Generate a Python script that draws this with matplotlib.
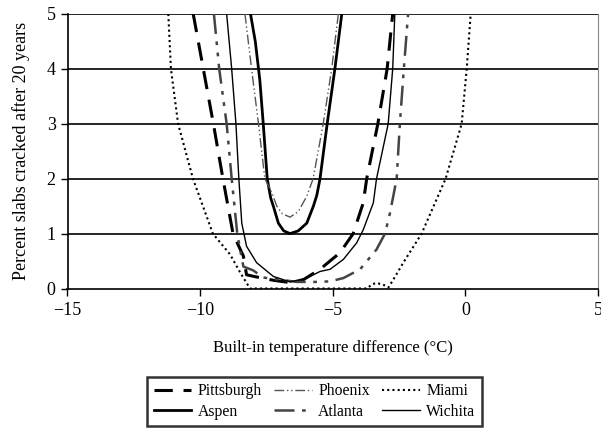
import matplotlib
matplotlib.use("Agg")
import matplotlib.pyplot as plt

plt.rcParams['font.family'] = ['Liberation Serif', 'DejaVu Serif']

# Data
pitt_x = [-10.26, -9.88, -9.5, -9.14, -8.76, -8.37, -8.25, -7.87, -7.24, -6.49, -6.11, -5.48, -4.73, -4.23, -3.85, -3.72, -3.3, -2.95, -2.74]
pitt_y = [5, 4, 3, 2, 1, 0.59, 0.25, 0.21, 0.15, 0.1, 0.16, 0.35, 0.65, 1.0, 1.56, 2, 3, 4, 5]

phx_x = [-8.31, -8.06, -7.8, -7.56, -7.3, -7.11, -6.9, -6.61, -6.3, -5.98, -5.74, -5.36, -5.04, -4.79]
phx_y = [5, 4, 3, 2, 1.75, 1.5, 1.36, 1.3, 1.4, 1.68, 2.0, 3, 4, 5]

miami_x = [-11.2, -11.1, -10.83, -10.27, -9.52, -8.87, -8.5, -8.12, -3.72, -3.5, -3.35, -3.1, -2.9, -2.72, -2.34, -1.65, -0.745, -0.14, 0.05, 0.2]
miami_y = [5, 4, 3, 2, 1, 0.62, 0.3, 0, 0, 0.08, 0.1, 0.07, 0.02, 0.16, 0.47, 1.0, 2, 3, 4, 5]

aspen_x = [-8.1, -7.92, -7.75, -7.62, -7.47, -7.34, -7.24, -7.05, -6.85, -6.61, -6.3, -5.98, -5.73, -5.6, -5.48, -5.21, -4.92, -4.66]
aspen_y = [5, 4.5, 3.8, 3, 2, 1.65, 1.5, 1.19, 1.05, 1.0, 1.05, 1.19, 1.5, 1.7, 2, 3, 4, 5]

atl_x = [-9.48, -9.28, -9.0, -8.81, -8.6, -8.45, -8.37, -8.0, -7.62, -6.36, -5.61, -5.1, -4.6, -3.97, -3.35, -3.03, -2.84, -2.59, -2.47, -2.32, -2.16]
atl_y = [5, 4, 3, 2, 1, 0.6, 0.4, 0.33, 0.2, 0.12, 0.12, 0.13, 0.19, 0.35, 0.71, 1.0, 1.38, 2, 3, 4, 5]

wich_x = [-9.0, -8.81, -8.65, -8.54, -8.43, -8.25, -7.87, -7.24, -6.61, -5.98, -5.48, -5.1, -4.6, -4.1, -3.85, -3.47, -3.35, -2.91, -2.74, -2.66]
wich_y = [5, 4, 3, 2, 1.19, 0.77, 0.47, 0.22, 0.12, 0.19, 0.31, 0.35, 0.53, 0.83, 1.07, 1.56, 2.0, 3, 4, 5]

x_ticks = [-15, -10, -5, 0, 5]
x_tick_labels = ['\u221215', '\u221210', '\u22125', '0', '5']
y_ticks = [0, 1, 2, 3, 4, 5]

fig = plt.figure(figsize=(6.01, 4.30), dpi=100)
ax = fig.add_axes([67.5/601, 1-288.5/430, (598-67.5)/601, (288.5-14)/430])

for yv in y_ticks[1:]:
    ax.axhline(yv, color='black', lw=1.2, zorder=1)

ax.plot(pitt_x, pitt_y, color='black', lw=2.2, ls=(0, (6, 3.5)), label='Pittsburgh', zorder=3)
ax.plot(aspen_x, aspen_y, color='black', lw=2.0, ls='-', label='Aspen', zorder=3)
ax.plot(phx_x, phx_y, color='#555555', lw=1.0, ls=(0, (7, 2, 1, 2, 1, 2)), label='Phoenix', zorder=3)
ax.plot(atl_x, atl_y, color='#444444', lw=1.8, ls=(0, (8, 3, 1.5, 3, 1.5, 3)), label='Atlanta', zorder=3)
ax.plot(miami_x, miami_y, color='black', lw=1.5, ls=(0, (1, 1.5)), label='Miami', zorder=3)
ax.plot(wich_x, wich_y, color='black', lw=1.0, ls='-', label='Wichita', zorder=3)

ax.set_xlim(-15, 5)
ax.set_ylim(0, 5)
ax.set_xticks(x_ticks)
ax.set_xticklabels(x_tick_labels)
ax.set_yticks(y_ticks)
ax.tick_params(axis='both', direction='out', length=5, width=1.0, labelsize=13, colors='black')
ax.tick_params(axis='x', pad=5)
ax.spines['top'].set_visible(False)
ax.spines['right'].set_color('#888888')
ax.spines['right'].set_linewidth(0.8)
ax.spines['left'].set_linewidth(1.2)
ax.spines['bottom'].set_linewidth(1.2)

ax.set_xlabel('Built-in temperature difference (\u00b0C)', fontsize=12, labelpad=15)
ax.set_ylabel('Percent slabs cracked after 20 years', fontsize=13, labelpad=12)

leg = fig.legend(loc='center', bbox_to_anchor=(314.5/601, 1-401.5/430), ncol=3,
                 fontsize=11.3, frameon=True, fancybox=False, edgecolor='black',
                 handlelength=2.4, columnspacing=0.8, handletextpad=0.4,
                 borderpad=0.4, labelspacing=0.3, borderaxespad=0)
leg.get_frame().set_linewidth(1.8)

fig.savefig('out.png', dpi=100)
